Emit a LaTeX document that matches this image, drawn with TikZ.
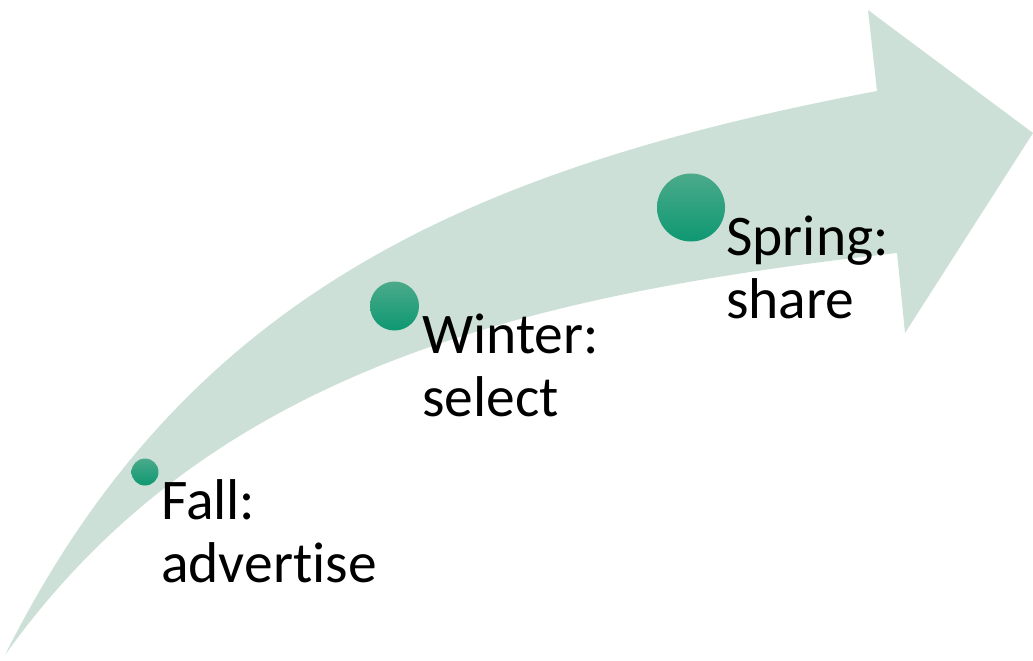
\documentclass[tikz,border=0pt]{standalone}
\usepackage{fontspec}
\setmainfont{Carlito}[Ligatures={NoCommon,NoContextual}]
\definecolor{bandgreen}{RGB}{205,224,216}
\definecolor{dottop}{RGB}{75,170,138}
\definecolor{dotbottom}{RGB}{14,152,114}
\begin{document}
\begin{tikzpicture}[x=1pt,y=-1pt,
  dot/.style={circle,inner sep=0pt,draw=none,top color=dottop,bottom color=dotbottom},
  lbl/.style={anchor=base west,inner sep=0pt,align=left,font=\fontsize{57.5}{63}\selectfont,text=black}]
\useasboundingbox (0,0) rectangle (1033,661);
\fill[bandgreen] (5,655) .. controls (184,297) and (465,169) .. (877,91)
  -- (868,10) -- (1033,133) -- (905,333) -- (897,253)
  .. controls (521,295) and (208,371) .. (5,655) -- cycle;
\node[dot,minimum size=27pt] (dfall) at (145,472) {};
\node[dot,minimum size=49pt] (dwinter) at (394.5,306) {};
\node[dot,minimum size=68pt] (dspring) at (691,207.5) {};
\node[lbl] (tfall) at (161,582) {Fall:\\advertise};
\node[lbl] (twinter) at (422,416) {Winter:\\select};
\node[lbl] (tspring) at (726,318) {Spring:\\share};
\end{tikzpicture}
\end{document}
